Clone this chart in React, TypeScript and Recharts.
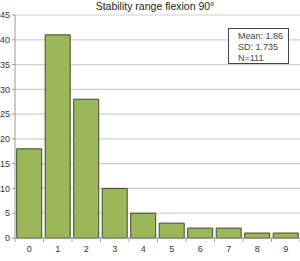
import React from 'react';
import { BarChart, Bar, XAxis, YAxis, CartesianGrid } from 'recharts';

const categories = ['0', '1', '2', '3', '4', '5', '6', '7', '8', '9'];
const counts = [18, 41, 28, 10, 5, 3, 2, 2, 1, 1];
const yTicks = [0, 5, 10, 15, 20, 25, 30, 35, 40, 45];
const statsLines = ['Mean: 1.86', 'SD: 1.735', 'N=111'];
const title = 'Stability range flexion 90°';

const data = categories.map((c, i) => ({ name: c, value: counts[i] }));

const FONT = '"Liberation Sans", Arial, sans-serif';
const BAND = 28.5;

// category label at the centre, small tick marks on the boundaries
const XTick = (props: any) => {
  const { x, y, payload, index } = props;
  const left = x - BAND / 2;
  return (
    <g>
      <line x1={left} x2={left} y1={y - 8} y2={y - 4} stroke="#9a9ad0" />
      {index === categories.length - 1 && (
        <line x1={x + BAND / 2} x2={x + BAND / 2} y1={y - 8} y2={y - 4} stroke="#9a9ad0" />
      )}
      <text x={x} y={y + 6} textAnchor="middle" fontSize={9} fill="#333" fontFamily={FONT}>
        {payload.value}
      </text>
    </g>
  );
};

export default function App() {
  return (
    <div style={{ position: 'relative', width: 300, height: 261, background: '#fff' }}>
      <style>{'body{margin:0}'}</style>
      <div
        style={{
          position: 'absolute',
          top: 0,
          left: 0,
          width: 310,
          textAlign: 'center',
          fontFamily: FONT,
          fontSize: 10.5,
          color: '#222',
          lineHeight: '12px',
        }}
      >
        {title}
      </div>
      <BarChart
        width={300}
        height={261}
        data={data}
        margin={{ top: 15, right: 0, bottom: 0, left: 0 }}
        barCategoryGap="6%"
      >
        <CartesianGrid vertical={false} stroke="#d0d0d0" strokeWidth={1.2} />
        <XAxis
          dataKey="name"
          height={23}
          axisLine={{ stroke: '#999' }}
          tickLine={false}
          tick={<XTick />}
          interval={0}
        />
        <YAxis
          width={15}
          domain={[0, 45]}
          ticks={yTicks}
          interval={0}
          axisLine={{ stroke: '#999' }}
          tickLine={{ stroke: '#999' }}
          tickSize={3}
          tickMargin={2}
          tick={{ fontSize: 9, fill: '#333', fontFamily: FONT }}
        />
        <Bar dataKey="value" fill="#9bb75a" stroke="#3f4a2a" strokeWidth={1} isAnimationActive={false} />
      </BarChart>
      <div
        style={{
          position: 'absolute',
          left: 228,
          top: 28,
          width: 61,
          height: 36,
          boxSizing: 'border-box',
          border: '1px solid #444',
          background: '#fff',
          padding: '2px 0 0 9px',
          fontFamily: FONT,
          fontSize: 9,
          lineHeight: '11px',
          color: '#444',
        }}
      >
        {statsLines.map((s) => (
          <div key={s}>{s}</div>
        ))}
      </div>
    </div>
  );
}
